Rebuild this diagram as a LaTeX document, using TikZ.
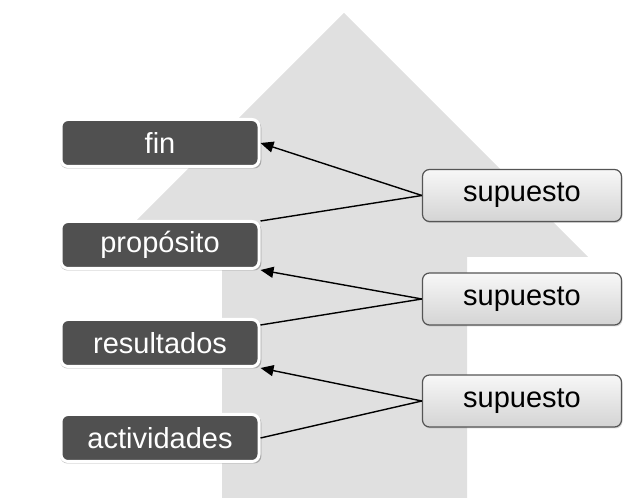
\documentclass[tikz,border=0pt]{standalone}
\usepackage{fontspec}
\setmainfont{Liberation Sans}
\usetikzlibrary{arrows.meta,shadows,calc}
\definecolor{bgarrow}{RGB}{224,224,224}
\definecolor{darkbox}{RGB}{80,80,80}
\definecolor{boxline}{RGB}{85,85,85}
\definecolor{shadetop}{RGB}{247,247,247}
\definecolor{shadebot}{RGB}{212,212,212}
\tikzset{
  level/.style={rounded corners=7pt, fill=darkbox, draw=white, line width=3pt,
    minimum width=198pt, minimum height=47pt, inner sep=0pt,
    text=white, font=\fontsize{29}{34}\selectfont,
    drop shadow={shadow xshift=0.8pt, shadow yshift=-1.6pt, shadow scale=1.015,
      opacity=0.45, fill=black!60}},
  assume/.style={rounded corners=7pt, top color=shadetop, bottom color=shadebot,
    draw=boxline, line width=1.2pt,
    minimum width=199pt, minimum height=52pt, inner sep=0pt,
    text=black, font=\fontsize{29}{34}\selectfont,
    drop shadow={shadow xshift=1pt, shadow yshift=-1.5pt, opacity=0.3}},
  link/.style={line width=1.4pt, draw=black},
  linkarrow/.style={link, -{Triangle[length=13pt,width=11pt]}}
}
\begin{document}
\begin{tikzpicture}[x=1pt,y=1pt]
\useasboundingbox (0,0) rectangle (644,502);
% background arrow
\fill[bgarrow] (344,489) -- (588,245) -- (467,245) -- (467,4) -- (222,4) -- (222,245) -- (100,245) -- cycle;
% levels
\node[level] (fin) at (160,359) {fin};
\node[level] (prop) at (160,257) {propósito};
\node[level] (res) at (160,159) {resultados};
\node[level] (act) at (160,64) {actividades};
% assumptions
\node[assume] (s1) at (522,306.5) {supuesto};
\node[assume] (s2) at (522,203) {supuesto};
\node[assume] (s3) at (522,101) {supuesto};
% connectors
\draw[linkarrow] (s1.west) -- (fin.east);
\draw[link] (s1.west) -- ($(prop.north east)+(0,-1)$);
\draw[linkarrow] (s2.west) -- (prop.south east);
\draw[link] (s2.west) -- ($(res.north east)+(0,-7)$);
\draw[linkarrow] (s3.west) -- (res.south east);
\draw[link] (s3.west) -- (act.east);
\end{tikzpicture}
\end{document}
